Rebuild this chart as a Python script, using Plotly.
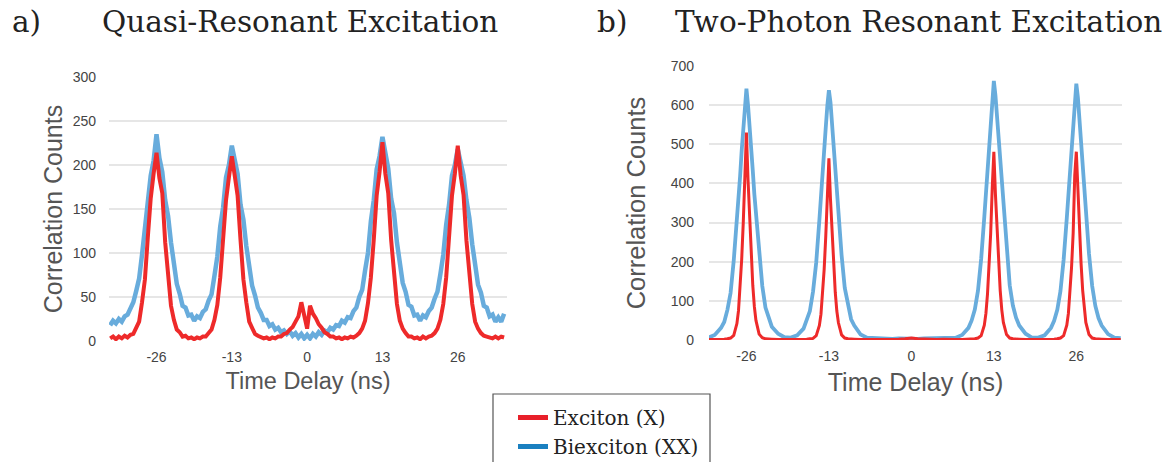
import plotly.graph_objects as go

# ---------------- data ----------------
# a) Quasi-resonant excitation : time bins (ns)
qr_time = [-34.0, -33.5, -33.0, -32.5, -32.0, -31.5, -31.0, -30.5, -30.0, -29.5,
           -29.0, -28.5, -28.0, -27.5, -27.0, -26.5, -26.0, -25.5, -25.0, -24.5,
           -24.0, -23.5, -23.0, -22.5, -22.0, -21.5, -21.0, -20.5, -20.0, -19.5,
           -19.0, -18.5, -18.0, -17.5, -17.0, -16.5, -16.0, -15.5, -15.0, -14.5,
           -14.0, -13.5, -13.0, -12.5, -12.0, -11.5, -11.0, -10.5, -10.0, -9.5,
           -9.0, -8.5, -8.0, -7.5, -7.0, -6.5, -6.0, -5.5, -5.0, -4.5,
           -4.0, -3.5, -3.0, -2.5, -2.0, -1.5, -1.0, -0.5, 0.0, 0.5,
           1.0, 1.5, 2.0, 2.5, 3.0, 3.5, 4.0, 4.5, 5.0, 5.5,
           6.0, 6.5, 7.0, 7.5, 8.0, 8.5, 9.0, 9.5, 10.0, 10.5,
           11.0, 11.5, 12.0, 12.5, 13.0, 13.5, 14.0, 14.5, 15.0, 15.5,
           16.0, 16.5, 17.0, 17.5, 18.0, 18.5, 19.0, 19.5, 20.0, 20.5,
           21.0, 21.5, 22.0, 22.5, 23.0, 23.5, 24.0, 24.5, 25.0, 25.5,
           26.0, 26.5, 27.0, 27.5, 28.0, 28.5, 29.0, 29.5, 30.0, 30.5,
           31.0, 31.5, 32.0, 32.5, 33.0, 33.5, 34.0]

qr_biexciton = [18, 23, 20, 25, 22, 28, 30, 37, 44, 57,
                71, 98, 128, 156, 188, 205, 235, 208, 192, 160,
                142, 112, 90, 65, 54, 40, 38, 29, 30, 23,
                28, 26, 33, 36, 46, 53, 74, 96, 130, 152,
                186, 200, 222, 205, 190, 155, 138, 108, 88, 63,
                52, 38, 32, 24, 24, 17, 19, 13, 15, 10,
                12, 8, 11, 6, 9, 4, 8, 3, 7, 3,
                8, 5, 10, 7, 12, 10, 15, 13, 18, 17,
                23, 21, 27, 26, 34, 38, 50, 58, 80, 100,
                136, 160, 195, 210, 232, 212, 196, 162, 145, 112,
                92, 66, 56, 41, 39, 29, 30, 23, 29, 27,
                34, 38, 48, 56, 76, 98, 132, 155, 188, 200,
                218, 205, 188, 160, 140, 110, 90, 64, 55, 40,
                38, 28, 30, 22, 27, 22, 31]

qr_exciton = [3, 5, 2, 5, 3, 6, 4, 7, 8, 15,
              22, 44, 70, 118, 162, 190, 214, 185, 168, 112,
              74, 40, 24, 13, 10, 5, 6, 3, 4, 2,
              4, 3, 5, 5, 9, 13, 24, 41, 72, 112,
              160, 186, 210, 188, 165, 115, 70, 44, 22, 15,
              8, 6, 4, 3, 4, 2, 4, 3, 5, 5,
              8, 9, 13, 16, 22, 28, 44, 30, 14, 40,
              31, 26, 19, 15, 10, 8, 5, 5, 3, 4,
              2, 4, 3, 5, 4, 6, 9, 14, 23, 43,
              72, 115, 165, 192, 226, 190, 168, 115, 72, 42,
              23, 14, 9, 5, 5, 3, 4, 2, 5, 3,
              5, 6, 9, 14, 24, 42, 72, 116, 165, 190,
              222, 188, 166, 114, 72, 42, 22, 14, 9, 6,
              5, 4, 3, 5, 3, 5, 4]

# b) Two-photon resonant excitation : time bins (ns)
tp_time = [-32, -31, -30, -29.5, -29, -28.5, -28, -27.5, -27.25, -27, -26.75, -26.5, -26.25,
           -26, -25.75, -25.5, -25.25, -25, -24.75, -24.5, -24, -23.5, -23, -22.5, -22, -21, -20,
           -19, -18, -17, -16.5, -16, -15.5, -15, -14.5, -14.25, -14, -13.75, -13.5, -13.25,
           -13, -12.75, -12.5, -12.25, -12, -11.75, -11.5, -11, -10.5, -10, -9.5, -9, -8, -7,
           -6, -5, -4, -3, -2, -1, 0, 1, 2, 3, 4, 5, 6,
           7, 8, 9, 9.5, 10, 10.5, 11, 11.5, 11.75, 12, 12.25, 12.5, 12.75,
           13, 13.25, 13.5, 13.75, 14, 14.25, 14.5, 15, 15.5, 16, 16.5, 17, 18, 19,
           20, 21, 22, 22.5, 23, 23.5, 24, 24.5, 24.75, 25, 25.25, 25.5, 25.75,
           26, 26.25, 26.5, 26.75, 27, 27.25, 27.5, 28, 28.5, 29, 29.5, 30, 31, 32,
           33]

tp_biexciton = [6, 13, 31, 46, 77, 120, 203, 302, 362, 418, 483, 538, 603,
                642, 600, 552, 487, 433, 372, 322, 212, 138, 83, 57, 34, 16, 7,
                6, 12, 29, 49, 74, 124, 198, 307, 358, 422, 478, 542, 598,
                638, 607, 548, 492, 428, 377, 318, 217, 133, 87, 53, 37, 14, 6,
                5, 4, 4, 3, 4, 3, 4, 3, 4, 4, 5, 5, 6,
                6, 13, 31, 50, 78, 126, 207, 315, 372, 434, 496, 558, 620,
                662, 625, 569, 507, 445, 388, 331, 222, 140, 88, 57, 37, 16, 6,
                6, 12, 31, 49, 77, 125, 205, 312, 368, 430, 491, 553, 614,
                655, 619, 563, 501, 440, 384, 327, 220, 138, 87, 56, 37, 15, 6,
                5]

tp_exciton = [1, 1, 2, 2, 3, 5, 12, 42, 75, 130, 205, 300, 430,
              530, 410, 310, 215, 140, 85, 50, 15, 6, 3, 2, 2, 1, 1,
              1, 1, 2, 2, 3, 4, 11, 37, 66, 114, 180, 263, 350,
              464, 359, 271, 188, 122, 74, 44, 13, 5, 3, 2, 2, 1, 1,
              1, 2, 1, 2, 2, 3, 5, 3, 2, 2, 1, 2, 1,
              1, 1, 2, 2, 3, 5, 11, 38, 68, 118, 186, 272, 390,
              481, 372, 281, 195, 127, 77, 45, 14, 5, 3, 2, 2, 1, 1,
              1, 1, 2, 2, 3, 5, 11, 38, 68, 118, 186, 272, 420,
              481, 372, 281, 195, 127, 77, 45, 14, 5, 3, 2, 2, 1, 1,
              1]

time_ticks = [-26, -13, 0, 13, 26]
series_names = ["Exciton (X)", "Biexciton (XX)"]
panel_titles = ["Quasi-Resonant Excitation", "Two-Photon Resonant Excitation"]
panel_labels = ["a)", "b)"]

# ---------------- styling ----------------
W, H = 1174, 462
RED = "#ee2a2a"
BLUE = "#68acdc"
LEG_RED = "#e8202a"
LEG_BLUE = "#1a80c0"
SANS = "Liberation Sans, Arial, sans-serif"
SERIF = "DejaVu Serif, serif"


def px_x(a, b):
    return [a / W, b / W]


def px_y(top, bottom):
    return [1 - bottom / H, 1 - top / H]


fig = go.Figure()

fig.add_trace(go.Scatter(x=qr_time, y=qr_biexciton, mode="lines", xaxis="x", yaxis="y",
                         line=dict(color=BLUE, width=4.5), showlegend=False, hoverinfo="skip"))
fig.add_trace(go.Scatter(x=qr_time, y=qr_exciton, mode="lines", xaxis="x", yaxis="y",
                         line=dict(color=RED, width=4), showlegend=False, hoverinfo="skip"))
fig.add_trace(go.Scatter(x=tp_time, y=tp_biexciton, mode="lines", xaxis="x2", yaxis="y2",
                         line=dict(color=BLUE, width=3.8), showlegend=False, hoverinfo="skip"))
fig.add_trace(go.Scatter(x=tp_time, y=tp_exciton, mode="lines", xaxis="x2", yaxis="y2",
                         line=dict(color=RED, width=3), showlegend=False, hoverinfo="skip"))

# legend-only entries
fig.add_trace(go.Scatter(x=[None], y=[None], mode="lines", name=series_names[0],
                         legendgroup="g1", line=dict(color=LEG_RED, width=5)))
fig.add_trace(go.Scatter(x=[None], y=[None], mode="lines", name=series_names[1],
                         legendgroup="g2", line=dict(color=LEG_BLUE, width=5)))

tickfont = dict(family=SANS, size=14, color="#444444")
grid = "#e6e6e6"

common_x = dict(tickvals=time_ticks, ticktext=[str(t) for t in time_ticks], showgrid=False,
                zeroline=False, showline=False, ticks="", tickfont=tickfont,
                ticklabelstandoff=6, fixedrange=True)
common_y = dict(showgrid=True, gridcolor=grid, gridwidth=1.5, zeroline=False, showline=False,
                ticks="", tickfont=tickfont, fixedrange=True)

fig.update_layout(
    width=W, height=H,
    margin=dict(l=0, r=0, t=0, b=0, autoexpand=False),
    paper_bgcolor="white", plot_bgcolor="white",
    xaxis=dict(domain=px_x(109, 507), range=[-34.2, 34.5], anchor="y",
               title=dict(text="Time Delay (ns)", font=dict(family=SANS, size=23.5, color="#555555"), standoff=8),
               **common_x),
    yaxis=dict(domain=px_y(77, 341), range=[0, 300], dtick=50, anchor="x",
               title=dict(text="Correlation Counts", font=dict(family=SANS, size=25, color="#555555"), standoff=2),
               ticklabelstandoff=12, **common_y),
    xaxis2=dict(domain=px_x(709, 1122), range=[-31.9, 33.2], anchor="y2",
                title=dict(text="Time Delay (ns)", font=dict(family=SANS, size=25, color="#555555"), standoff=10),
                **common_x),
    yaxis2=dict(domain=px_y(66, 340), range=[0, 700], dtick=100, anchor="x2",
                title=dict(text="Correlation Counts", font=dict(family=SANS, size=25.5, color="#555555"), standoff=17),
                ticklabelstandoff=14, **common_y),
    legend=dict(x=513 / W, y=1 - 398 / H, xanchor="left", yanchor="top",
                font=dict(family=SERIF, size=20, color="#222222"),
                bgcolor="rgba(0,0,0,0)", borderwidth=0, tracegroupgap=0,
                itemclick=False, itemdoubleclick=False),
    showlegend=True,
)

# legend frame (cut by the bottom edge, as in the reference)
fig.add_shape(type="rect", xref="paper", yref="paper",
              x0=493 / W, x1=710 / W, y0=-0.2, y1=1 - 394 / H,
              line=dict(color="#555555", width=1.2), fillcolor="rgba(0,0,0,0)")

# panel headings
for lab, title, xl, xt in [(panel_labels[0], panel_titles[0], 10, 100),
                           (panel_labels[1], panel_titles[1], 595, 673)]:
    fig.add_annotation(text=lab, x=xl / W, y=1 - 22 / H, xref="paper", yref="paper",
                       xanchor="left", yanchor="middle", showarrow=False,
                       font=dict(family=SERIF, size=29.5, color="#222222"))
    fig.add_annotation(text=title, x=xt / W, y=1 - 22 / H, xref="paper", yref="paper",
                       xanchor="left", yanchor="middle", showarrow=False,
                       font=dict(family=SERIF, size=29.5, color="#222222"))

assert len(qr_time) == len(qr_biexciton) == len(qr_exciton)
assert len(tp_time) == len(tp_biexciton) == len(tp_exciton)

fig.write_html("out.html", config={"displayModeBar": False})
